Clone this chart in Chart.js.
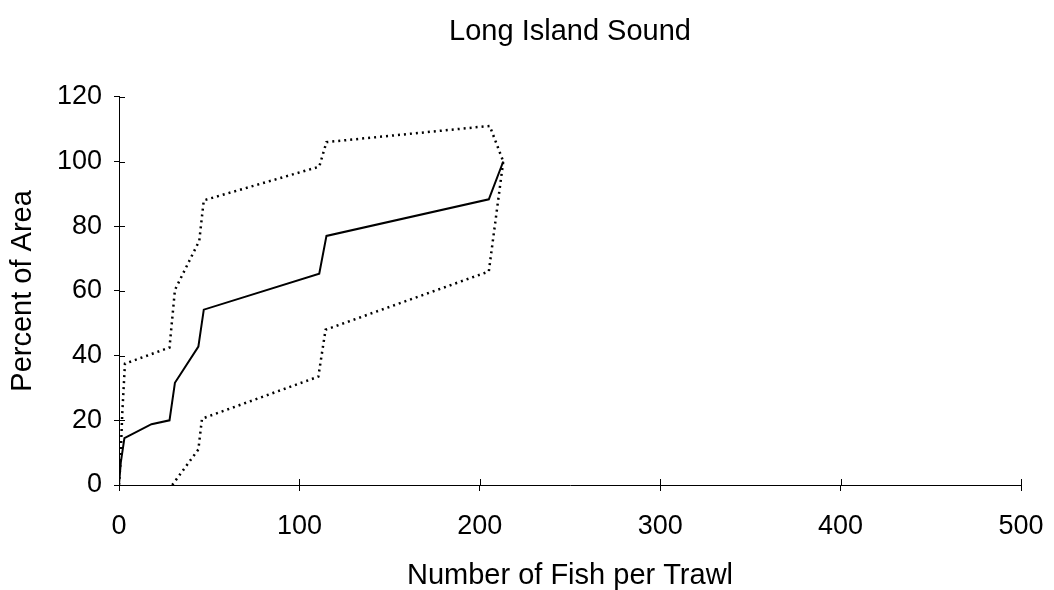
<!DOCTYPE html>
<html>
<head>
<meta charset="utf-8">
<script src="https://cdn.jsdelivr.net/npm/chart.js@4/dist/chart.umd.min.js"></script>
<style>
  html, body { margin: 0; padding: 0; background: #fff; }
  #wrap { width: 1054px; height: 590px; position: relative; }
</style>
</head>
<body>
<div id="wrap"><canvas id="c"></canvas></div>
<script>
// Cumulative percent of area vs. catch per trawl (estimate with bounds)
const estimateX = [0, 1, 3, 18, 28, 31, 44, 47, 111, 115, 205, 213];
const estimateY = [0, 7, 14.5, 18.8, 20, 31.6, 42.8, 54.2, 65.3, 77, 88.3, 100];

const upperX = [0, 0.8, 1.8, 3.3, 28, 31, 44.5, 47, 111, 115, 205.5, 213];
const upperY = [0, 7, 22, 37.5, 42.5, 60.3, 75.5, 88, 98.4, 106, 111, 100];

const lowerX = [29.5, 44, 46, 110.5, 114.5, 205, 213];
const lowerY = [0, 11, 20.5, 33.5, 48, 66, 100];

const xTicks = [0, 100, 200, 300, 400, 500];
const yTicks = [0, 20, 40, 60, 80, 100, 120];

const toPoints = (xs, ys) => xs.map((x, i) => ({ x: x, y: ys[i] }));

const FONT = 'Liberation Sans, Arial, Helvetica, sans-serif';

// Short tick marks pointing into the plot area, so ticks cross the axis line
const innerTicks = {
  id: 'innerTicks',
  afterDraw(chart) {
    const { ctx, scales: { x, y } } = chart;
    ctx.save();
    ctx.strokeStyle = '#000';
    ctx.lineWidth = 1;
    ctx.beginPath();
    xTicks.forEach(v => {
      const px = Math.round(x.getPixelForValue(v)) + 0.5;
      ctx.moveTo(px, y.bottom);
      ctx.lineTo(px, y.bottom - 6);
    });
    yTicks.forEach(v => {
      const py = Math.round(y.getPixelForValue(v)) + 0.5;
      ctx.moveTo(x.left, py);
      ctx.lineTo(x.left + 6, py);
    });
    ctx.stroke();
    ctx.restore();
  }
};

new Chart(document.getElementById('c'), {
  type: 'line',
  data: {
    datasets: [
      {
        data: toPoints(estimateX, estimateY),
        borderColor: '#000',
        borderWidth: 2,
        pointRadius: 0,
        tension: 0
      },
      {
        data: toPoints(upperX, upperY),
        borderColor: '#000',
        borderWidth: 2.5,
        borderDash: [2, 4],
        pointRadius: 0,
        tension: 0
      },
      {
        data: toPoints(lowerX, lowerY),
        borderColor: '#000',
        borderWidth: 2.5,
        borderDash: [2, 4],
        pointRadius: 0,
        tension: 0
      }
    ]
  },
  options: {
    responsive: true,
    maintainAspectRatio: false,
    animation: false,
    layout: { padding: { left: 0, right: 33, top: 0, bottom: 0 } },
    plugins: {
      legend: { display: false },
      tooltip: { enabled: false },
      title: {
        display: true,
        fullSize: false,
        text: 'Long Island Sound',
        color: '#000',
        font: { family: FONT, size: 29, weight: 'normal' },
        padding: { top: 15, bottom: 47 }
      }
    },
    scales: {
      x: {
        type: 'linear',
        min: 0,
        max: 500,
        afterBuildTicks(scale) { scale.ticks = xTicks.map(v => ({ value: v })); },
        afterFit(scale) {
          scale.height = 105;
          scale.paddingLeft = 0;
          scale.paddingRight = 0;
        },
        grid: { display: true, drawOnChartArea: false, drawTicks: true, tickLength: 6, color: '#000' },
        border: { display: true, color: '#000', width: 1 },
        ticks: { color: '#000', padding: 19, font: { family: FONT, size: 27 } },
        title: {
          display: true,
          text: 'Number of Fish per Trawl',
          color: '#000',
          font: { family: FONT, size: 29 },
          padding: { top: 0, bottom: -3 }
        }
      },
      y: {
        type: 'linear',
        min: 0,
        max: 120,
        afterBuildTicks(scale) { scale.ticks = yTicks.map(v => ({ value: v })); },
        afterFit(scale) { scale.width = 119; },
        grid: { display: true, drawOnChartArea: false, drawTicks: true, tickLength: 5, color: '#000' },
        border: { display: true, color: '#000', width: 1 },
        ticks: { color: '#000', padding: 12, font: { family: FONT, size: 27 } },
        title: {
          display: true,
          text: 'Percent of Area',
          color: '#000',
          font: { family: FONT, size: 29 },
          padding: { top: 6, bottom: 0 }
        }
      }
    }
  },
  plugins: [innerTicks]
});
</script>
</body>
</html>
